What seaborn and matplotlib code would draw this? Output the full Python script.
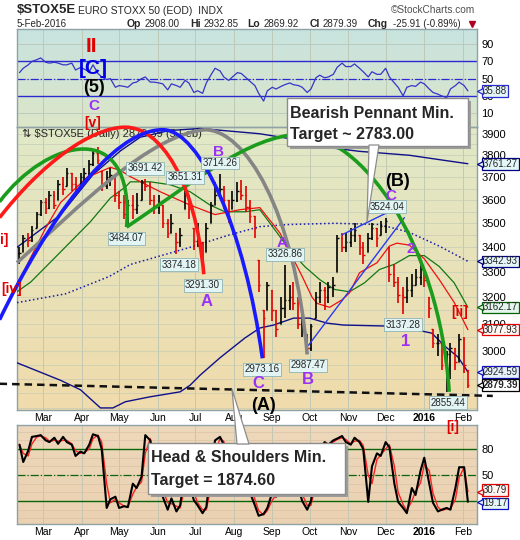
import numpy as np
import pandas as pd
import matplotlib
matplotlib.use("Agg")
import matplotlib.pyplot as plt
import matplotlib.dates as mdates
import seaborn as sns
from matplotlib.path import Path
from matplotlib.patches import PathPatch, Rectangle, Polygon
from matplotlib.colors import LinearSegmentedColormap
from matplotlib.transforms import blended_transform_factory
from matplotlib.ticker import FixedLocator, FixedFormatter, NullLocator

sns.set_theme(style="white")
plt.rcParams["font.family"] = ["Liberation Sans", "DejaVu Sans"]

# ---------------------------------------------------------------- data
bar_dates = pd.date_range("2015-02-10", "2016-02-05", freq="W-TUE").union(
    pd.date_range("2015-02-10", "2016-02-05", freq="W-FRI"))

close = [3375, 3440, 3430, 3470, 3540, 3590,
         3565, 3620, 3580, 3670, 3650, 3720, 3670, 3660, 3700,
         3720, 3760, 3810, 3780, 3660, 3700, 3710, 3620,
         3590, 3540, 3580, 3560, 3580, 3680, 3660, 3600, 3570,
         3590, 3500, 3460, 3500, 3420, 3450, 3630, 3560, 3424,
         3440, 3320, 3480, 3580, 3620, 3650, 3600, 3530, 3600,
         3640, 3620, 3570, 3530, 3480, 3250, 3120, 3250,
         3150, 3080, 3160, 3190, 3200, 3180, 3100, 3110, 3010,
         3090, 3200, 3230, 3200, 3240, 3250, 3440, 3400, 3420,
         3450, 3470, 3400, 3370, 3440, 3480, 3440, 3490,
         3510, 3290, 3260, 3210, 3200, 3230, 3250, 3280, 3310, 3268,
         3160, 3030, 3030, 2950, 2990, 3010, 2960, 3045,
         2950, 2879.39]
high = [3400, 3450, 3460, 3490, 3550, 3600,
        3610, 3640, 3640, 3690, 3700, 3740, 3720, 3700, 3720,
        3740, 3780, 3820, 3836, 3730, 3730, 3740, 3700,
        3640, 3620, 3600, 3620, 3630, 3690, 3691, 3680, 3620,
        3620, 3580, 3520, 3540, 3460, 3480, 3651, 3620, 3480,
        3500, 3420, 3500, 3590, 3680, 3714, 3660, 3600, 3640,
        3680, 3690, 3660, 3600, 3530, 3350, 3150, 3260,
        3230, 3150, 3200, 3327, 3250, 3260, 3200, 3150, 3060,
        3100, 3220, 3260, 3240, 3260, 3280, 3450, 3460, 3460,
        3480, 3500, 3450, 3420, 3460, 3500, 3480, 3510,
        3524, 3400, 3330, 3280, 3240, 3280, 3290, 3310, 3330, 3310,
        3200, 3080, 3060, 3030, 3000, 3030, 3010, 3060,
        3050, 2932.85]
low = [3330, 3380, 3400, 3420, 3480, 3530,
       3540, 3560, 3560, 3600, 3620, 3660, 3640, 3620, 3650,
       3680, 3700, 3750, 3760, 3640, 3650, 3660, 3590,
       3560, 3520, 3484, 3520, 3540, 3600, 3640, 3580, 3540,
       3540, 3480, 3440, 3460, 3374, 3400, 3560, 3520, 3390,
       3400, 3291, 3380, 3500, 3580, 3620, 3560, 3500, 3560,
       3590, 3600, 3550, 3500, 3440, 3220, 2973, 3150,
       3110, 3050, 3100, 3120, 3150, 3150, 3080, 3050, 2987,
       3000, 3120, 3180, 3150, 3180, 3200, 3300, 3380, 3380,
       3400, 3420, 3370, 3330, 3380, 3430, 3400, 3450,
       3460, 3260, 3240, 3180, 3137, 3180, 3200, 3250, 3250, 3240,
       3120, 3010, 2980, 2930, 2855, 2900, 2930, 2960,
       2920, 2869.92]

rsi = [57, 62, 66, 70, 72, 74,
       69, 68, 69, 68, 66, 66, 68, 60, 63,
       61, 58, 66, 56, 52, 49, 50, 40,
       42, 41, 40, 45, 46, 50, 52, 46, 46,
       45, 44, 37, 44, 42, 40, 48, 45, 34,
       36, 33, 45, 55, 62, 59, 52, 48, 52,
       57, 56, 51, 47, 42, 33, 24, 36,
       40, 38, 41, 43, 45, 43, 42, 40, 34,
       38, 51, 54, 51, 52, 55, 63, 68, 64,
       64, 67, 62, 58, 52, 58, 55, 55,
       62, 52, 45, 40, 30, 40, 42, 41, 46, 44,
       38, 34, 32, 30, 28, 38, 42, 46,
       42, 35.88]

stoch_k = [85, 65, 78, 94, 95, 96,
           90, 88, 93, 86, 94, 88, 85, 72, 77,
           75, 85, 97, 95, 80, 12, 22, 25,
           12, 14, 13, 40, 35, 48, 96, 90, 60,
           40, 25, 10, 23, 8, 15, 55, 40, 21,
           15, 6, 13, 60, 90, 94, 85, 55, 60,
           70, 72, 50, 30, 15, 3, 5, 12,
           30, 25, 40, 50, 55, 55, 35, 20, 10,
           20, 60, 80, 88, 85, 90, 92, 95, 88,
           85, 93, 88, 80, 19, 60, 75, 72,
           88, 82, 40, 19, 12, 6, 35, 27, 55, 70,
           40, 18, 8, 10, 12, 10, 35, 59,
           59, 19.17]
stoch_d = [85, 75, 72, 86, 94, 95,
           93, 89, 90, 89, 90, 90, 86, 78, 75,
           76, 80, 92, 96, 88, 40, 18, 22,
           18, 14, 13, 28, 36, 42, 75, 92, 75,
           50, 33, 18, 17, 14, 12, 38, 47, 30,
           18, 10, 10, 38, 76, 92, 89, 70, 58,
           65, 71, 61, 40, 22, 9, 4, 9,
           21, 27, 33, 45, 53, 55, 45, 28, 15,
           15, 40, 70, 84, 86, 88, 91, 93, 91,
           86, 89, 90, 84, 50, 40, 68, 73,
           80, 85, 60, 30, 16, 9, 20, 31, 41, 62,
           55, 29, 13, 9, 11, 11, 22, 47,
           59, 30.79]

ma_red_dates = ["2015-02-08", "2015-02-19", "2015-03-03", "2015-03-15", "2015-04-05",
                "2015-04-24", "2015-05-02", "2015-05-10", "2015-06-03", "2015-06-27",
                "2015-07-17", "2015-08-06", "2015-08-22", "2015-09-07", "2015-09-17",
                "2015-09-25", "2015-10-03", "2015-10-07", "2015-10-17", "2015-10-27",
                "2015-11-02", "2015-11-10", "2015-11-24", "2015-12-04", "2015-12-10",
                "2015-12-20", "2016-01-01", "2016-01-13", "2016-01-25", "2016-02-05"]
ma_red = [3250, 3358, 3480, 3589, 3699, 3745, 3731, 3703, 3636, 3578,
          3537, 3558, 3567, 3460, 3361, 3282, 3200, 3177, 3162, 3191,
          3218, 3297, 3337, 3405, 3417, 3409, 3353, 3270, 3181, 3077.93]

ma_green_dates = ["2015-02-08", "2015-02-19", "2015-03-15", "2015-04-08", "2015-04-24",
                  "2015-05-06", "2015-05-10", "2015-05-26", "2015-06-11", "2015-06-27",
                  "2015-07-13", "2015-07-25", "2015-08-10", "2015-08-22", "2015-09-03",
                  "2015-09-15", "2015-09-27", "2015-10-09", "2015-10-21", "2015-11-02",
                  "2015-11-14", "2015-11-26", "2015-12-08", "2015-12-20", "2016-01-01",
                  "2016-01-13", "2016-01-25", "2016-02-05"]
ma_green = [3222, 3260, 3381, 3507, 3609, 3657, 3680, 3680, 3667, 3636,
            3578, 3549, 3549, 3558, 3473, 3389, 3322, 3270, 3231, 3222,
            3257, 3310, 3331, 3366, 3366, 3322, 3257, 3162.17]

ma200_dates = ["2015-02-08", "2015-03-19", "2015-04-23", "2015-05-10", "2015-06-27",
               "2015-07-29", "2015-08-22", "2015-09-15", "2015-10-21", "2015-11-26",
               "2015-12-20", "2016-01-13", "2016-02-05"]
ma200 = [3180, 3214, 3282, 3330, 3400, 3452, 3486, 3495, 3500, 3495, 3462, 3405, 3342.93]

upper_dates = ["2015-02-08", "2015-03-15", "2015-04-10", "2015-05-02", "2015-05-18",
               "2015-06-10", "2015-07-05", "2015-08-22", "2015-09-12", "2015-10-10",
               "2015-11-10", "2015-12-20", "2016-01-13", "2016-02-05"]
upper = [3400, 3536, 3712, 3820, 3884, 3915, 3925, 3900, 3880, 3840, 3818, 3800, 3780, 3761.27]

lower_dates = ["2015-02-08", "2015-03-15", "2015-03-31", "2015-04-16", "2015-04-26",
               "2015-05-06", "2015-05-26", "2015-06-19", "2015-06-27", "2015-07-05",
               "2015-07-21", "2015-08-10", "2015-08-22", "2015-09-02", "2015-09-18",
               "2015-10-01", "2015-10-15", "2015-10-28", "2015-12-04", "2015-12-22",
               "2016-01-07", "2016-01-18", "2016-01-28", "2016-02-05"]
lower = [2957, 2895, 2862, 2800, 2800, 2821, 2838, 2855, 2878, 2913,
         2975, 3047, 3084, 3095, 3121, 3121, 3102, 3095, 3091, 3080,
         3065, 3015, 2978, 2924.59]

# extreme-value labels
lab_dates = ["2015-05-22", "2015-05-07", "2015-06-23", "2015-07-21", "2015-06-18",
             "2015-07-07", "2015-08-24", "2015-09-11", "2015-09-30", "2015-12-02",
             "2015-12-15", "2016-01-20"]
lab_prices = [3691.42, 3484.07, 3651.31, 3714.26, 3374.18, 3291.30, 2973.16,
              3326.86, 2987.47, 3524.04, 3137.28, 2855.44]
lab_side = [1, -1, 1, 1, -1, -1, -1, 1, -1, 1, -1, -1]

# hand-drawn cycle arcs (cubic Bezier control points: date, price)
arc_green1_d = ["2015-01-25", "2015-03-03", "2015-05-14", "2015-05-07"]
arc_green1_p = [3592, 3872, 3991, 3484]
arc_green2_d = ["2015-05-07", "2015-06-27", "2015-08-14", "2015-09-23",
                "2015-11-10", "2016-01-13", "2016-01-21"]
arc_green2_p = [3484, 3668, 3896, 3896, 3896, 3431, 2855]
arc_red_d = ["2015-01-25", "2015-02-27", "2015-04-08", "2015-05-06",
             "2015-06-03", "2015-07-01", "2015-07-08"]
arc_red_p = [3524, 3757, 3931, 3931, 3931, 3690, 3291]
arc_blue_d = ["2015-01-25", "2015-03-03", "2015-04-24", "2015-06-05",
              "2015-07-05", "2015-08-10", "2015-08-24"]
arc_blue_p = [3115, 3494, 3919, 3919, 3919, 3473, 2973]
arc_gray_d = ["2015-02-08", "2015-03-31", "2015-05-26", "2015-07-09",
              "2015-08-10", "2015-09-19", "2015-09-29"]
arc_gray_p = [3337, 3579, 3896, 3919, 3919, 3558, 2987]

trend1_d = ["2015-09-30", "2015-12-16"]
trend1_p = [3020, 3524]
trend2_d = ["2015-10-27", "2015-12-10"]
trend2_p = [3452, 3566]
neck_d = ["2015-01-25", "2016-02-25"]
neck_p = [2883, 2841]

price_ticks = [3000, 3100, 3200, 3300, 3400, 3500, 3600, 3700, 3800, 3900]
rsi_ticks = [10, 30, 50, 70, 90]
sto_ticks = [50, 80]
month_labels = ["Mar", "Apr", "May", "Jun", "Jul", "Aug", "Sep", "Oct", "Nov",
                "Dec", "2016", "Feb"]

main_tags = [3761.27, 3342.93, 3162.17, 3077.93, 2924.59, 2879.39]
main_tag_ec = ["#000080", "#000080", "#006400", "#e00000", "#1010c0", "#000000"]
main_tag_fc = ["#e4f6f8", "#e4f6f8", "#e4f6ec", "#fff6f2", "#e4f0fa", "#ffffff"]

# ---------------------------------------------------------------- figure
W, H = 520, 540
fig = plt.figure(figsize=(W / 100, H / 100), dpi=100)


def rect(l, t, r, b):
    return [l / W, 1 - b / H, (r - l) / W, (b - t) / H]


def panel(box, top_col, bot_col):
    bg = fig.add_axes(box, zorder=0)
    cmap = LinearSegmentedColormap.from_list("bg", [bot_col, top_col])
    bg.imshow(np.linspace(0, 1, 256).reshape(-1, 1), aspect="auto", cmap=cmap,
              origin="lower", extent=[0, 1, 0, 1])
    bg.set_axis_off()
    a = fig.add_axes(box, zorder=1)
    a.set_facecolor("none")
    for s in a.spines.values():
        s.set_color("#8fa3a6")
        s.set_linewidth(1.0)
    return a


ax_top = panel(rect(17, 29, 477, 127), "#c8e3df", "#dce6c8")
ax = panel(rect(17, 127, 477, 410), "#e0e9c7", "#f0dbab")
ax_bot = panel(rect(17, 425, 477, 524), "#eed8bb", "#ead1b1")

d2n = lambda lst: mdates.date2num(pd.to_datetime(lst))
x0 = mdates.date2num(pd.Timestamp("2015-02-08"))
x1 = mdates.date2num(pd.Timestamp("2016-02-12 08:00"))
months = mdates.date2num(pd.date_range("2015-03-01", "2016-02-01", freq="MS"))

ax.set_yscale("log")
for a in (ax_top, ax, ax_bot):
    a.set_xlim(x0, x1)
    for m in months:
        a.axvline(m, color="#bcc4b2", lw=0.6, zorder=0.5)
    a.set_xticks(months)
    a.tick_params(axis="both", length=0, colors="black")
    a.yaxis.tick_right()
    a.grid(False)
ax_top.set_xticklabels([])
for a in (ax, ax_bot):
    a.set_xticklabels(month_labels, fontsize=7.5)
    a.tick_params(axis="x", pad=2)
    a.get_xticklabels()[10].set_fontweight("bold")

# ---- top panel (RSI)
ax_top.set_ylim(-6, 107.5)
ax_top.yaxis.set_major_locator(FixedLocator(rsi_ticks))
ax_top.set_yticklabels([str(t) for t in rsi_ticks], fontsize=8)
ax_top.tick_params(axis="y", pad=3)
for g in rsi_ticks:
    ax_top.axhline(g, color="#b9c6bc", lw=0.6, zorder=0.5)
ax_top.axhline(70, color="#2a2ad0", lw=1.0, zorder=2)
ax_top.axhline(30, color="#2a2ad0", lw=1.0, zorder=2)
ax_top.axhline(50, color="#2a2ad0", lw=0.9, ls="-.", zorder=2)
xb = d2n(bar_dates)
sns.lineplot(x=xb, y=rsi, ax=ax_top, color="#3535c8", linewidth=0.9,
             estimator=None, legend=False, zorder=3)

# ---- main panel
ax.set_ylim(2793, 3932)
ax.yaxis.set_major_locator(FixedLocator(price_ticks))
ax.yaxis.set_major_formatter(FixedFormatter([str(t) for t in price_ticks]))
ax.yaxis.set_minor_locator(NullLocator())
ax.tick_params(axis="y", labelsize=8, pad=3)
for g in range(2800, 3951, 50):
    ax.axhline(g, color="#c6ccb6", lw=0.5, zorder=0.5)

sns.lineplot(x=d2n(ma200_dates), y=ma200, ax=ax, color="#1a1aa8", linewidth=1.1,
             linestyle=":", estimator=None, legend=False, zorder=3)
sns.lineplot(x=d2n(upper_dates), y=upper, ax=ax, color="#10108a", linewidth=1.0,
             estimator=None, legend=False, zorder=3)
sns.lineplot(x=d2n(lower_dates), y=lower, ax=ax, color="#10108a", linewidth=1.0,
             estimator=None, legend=False, zorder=3)
sns.lineplot(x=d2n(ma_green_dates), y=ma_green, ax=ax, color="#127812", linewidth=0.9,
             estimator=None, legend=False, zorder=3)
sns.lineplot(x=d2n(ma_red_dates), y=ma_red, ax=ax, color="#f01010", linewidth=0.9,
             estimator=None, legend=False, zorder=3)

c = np.array(close, float)
hi = np.array(high, float)
lo = np.array(low, float)
o = np.clip(np.r_[c[0], c[:-1]], lo, hi)
cols = np.where(c >= np.r_[c[0], c[:-1]], "#000000", "#e00000")
ax.vlines(xb, lo, hi, colors=cols, lw=1.2, zorder=4)
ax.hlines(o, xb - 1.2, xb, colors=cols, lw=1.0, zorder=4)
ax.hlines(c, xb, xb + 1.2, colors=cols, lw=1.0, zorder=4)

ax.text(5 / 460, 1 - 7 / 283, "⇅ \\$STOX5E (Daily) 2879.39 (5 Feb)", transform=ax.transAxes,
        fontsize=8, va="center", ha="left", zorder=2)


def arc(dates, prices, color):
    verts = list(zip(d2n(dates), prices))
    codes = [Path.MOVETO] + [Path.CURVE4] * (len(verts) - 1)
    ax.add_patch(PathPatch(Path(verts, codes), fc="none", ec=color, lw=2.6,
                           clip_on=False, zorder=6))


arc(arc_gray_d, arc_gray_p, "#858585")
arc(arc_green1_d, arc_green1_p, "#1c9c1c")
arc(arc_green2_d, arc_green2_p, "#1c9c1c")
arc(arc_red_d, arc_red_p, "#ff1a1a")
arc(arc_blue_d, arc_blue_p, "#1a1aff")

ax.plot(d2n(trend1_d), trend1_p, color="#2a3af0", lw=1.0, zorder=5)
ax.plot(d2n(trend2_d), trend2_p, color="#2a3af0", lw=1.0, zorder=5)
ax.plot(d2n(neck_d), neck_p, color="#111111", lw=1.8, ls=(0, (3, 2)), zorder=6, clip_on=False)

for d, p, s in zip(d2n(lab_dates), lab_prices, lab_side):
    ax.annotate(f"{p:.2f}", xy=(d, p), xytext=(0, 8 * s), textcoords="offset points",
                ha="center", va="center", fontsize=7, zorder=8, annotation_clip=False,
                bbox=dict(boxstyle="square,pad=0.15", fc="#e2f5f4", ec="#8fb3b3", lw=0.6))


def tag(a, val, ec, fc, bold=False, nudge=0.0):
    tr = blended_transform_factory(a.transAxes, a.transData)
    a.annotate(f"{val:.2f}", xy=(1.0 + 6 / 460, val), xycoords=tr, xytext=(0, nudge),
               textcoords="offset points", ha="left", va="center",
               fontsize=7, fontweight="bold" if bold else "normal", zorder=9,
               annotation_clip=False,
               bbox=dict(boxstyle="square,pad=0.08", fc=fc, ec=ec, lw=0.9))
    a.plot([1.0 + 3 / 460], [val], marker="<", ms=4.5, mfc=fc, mec=ec, mew=0.9,
           transform=tr, clip_on=False, zorder=9)


for v, e, f in zip(main_tags, main_tag_ec, main_tag_fc):
    tag(ax, v, e, f, bold=(v == main_tags[-1]))
tag(ax_top, rsi[-1], "#2a2ad0", "#e4f6f8")

# ---- bottom panel (stochastic)
ax_bot.set_ylim(-6.5, 107.7)
ax_bot.yaxis.set_major_locator(FixedLocator(sto_ticks))
ax_bot.set_yticklabels([str(t) for t in sto_ticks], fontsize=8)
ax_bot.tick_params(axis="y", pad=3)
for g in range(0, 101, 10):
    ax_bot.axhline(g, color="#d9c3a6", lw=0.5, zorder=0.5)
ax_bot.axhline(80, color="#0a640a", lw=1.0, zorder=2)
ax_bot.axhline(20, color="#0a640a", lw=1.0, zorder=2)
ax_bot.axhline(50, color="#0a640a", lw=0.9, ls="-.", zorder=2)
sns.lineplot(x=xb, y=stoch_d, ax=ax_bot, color="#ff2020", linewidth=1.0,
             estimator=None, legend=False, zorder=3)
sns.lineplot(x=xb, y=stoch_k, ax=ax_bot, color="#000000", linewidth=1.5,
             estimator=None, legend=False, zorder=4)
tag(ax_bot, stoch_d[-1], "#e00000", "#fff6f2", nudge=1.2)
tag(ax_bot, stoch_k[-1], "#1010c0", "#e4f6f8", nudge=-1.2)

# ---------------------------------------------------------------- overlay
ov = fig.add_axes([0, 0, 1, 1], zorder=10)
ov.set_xlim(0, W)
ov.set_ylim(H, 0)
ov.set_axis_off()

ov.text(17, 10, "\\$STOX5E", fontsize=9.5, fontweight="bold", va="center", ha="left")
ov.text(78, 10.5, "EURO STOXX 50 (EOD)  INDX", fontsize=7.5, va="center", ha="left")
ov.text(475, 10, "©StockCharts.com", fontsize=7.3, color="#505050", va="center", ha="right")
ov.text(17, 24, "5-Feb-2016", fontsize=7, va="center", ha="left")
quote = [(127, "Op", True), (145, "2908.00", False), (190, "Hi", True), (204, "2932.85", False),
         (247, "Lo", True), (264, "2869.92", False), (310, "Cl", True), (323, "2879.39", False),
         (368, "Chg", True), (393, "-25.91 (-0.89%)", False)]
for qx, qs, qb in quote:
    ov.text(qx, 24, qs, fontsize=7.5 if qb else 7, fontweight="bold" if qb else "normal",
            va="center", ha="left")
ov.plot([472], [24], marker="v", color="#b00020", ms=4)

purple = "#9932f5"
red = "#e00000"
waves = [(91, 46, "II", red, 15), (93, 68, "[C]", "#0000e6", 15), (94, 87, "(5)", "black", 13),
         (94, 106, "C", purple, 11), (93, 123, "[v]", red, 10), (4, 240, "i]", red, 10),
         (12, 289, "[iv]", red, 10), (219, 152, "B", purple, 11), (207, 301, "A", purple, 12),
         (258, 384, "C", purple, 12), (264, 405, "(A)", "black", 13), (282, 243, "A", purple, 11),
         (308, 380, "B", purple, 12), (397, 181, "(B)", "black", 13), (391, 196, "C", purple, 11),
         (411, 249, "2", purple, 11), (406, 342, "1", purple, 12), (460, 312, "[ii]", red, 10),
         (453, 427, "[i]", red, 10)]
for wx, wy, ws, wc, wf in waves:
    ov.text(wx, wy, ws, color=wc, fontsize=wf, fontweight="bold", ha="center", va="center")

# callout boxes
ov.add_patch(Rectangle((290, 101), 181, 48, fc="#9c9c9c", ec="none"))
ov.add_patch(Rectangle((287, 98), 181, 48, fc="white", ec="#8c8c8c", lw=1))
ov.add_patch(Polygon([(369, 145), (379, 145), (367, 222)], closed=True, fc="white",
                     ec="#8c8c8c", lw=0.9))
ov.text(290, 113, "Bearish Pennant Min.", fontsize=11.5, fontweight="bold", va="center", ha="left")
ov.text(290, 134, "Target ~ 2783.00", fontsize=11.5, fontweight="bold", va="center", ha="left")

ov.add_patch(Rectangle((151, 446), 197, 51, fc="#9c9c9c", ec="none"))
ov.add_patch(Rectangle((148, 443), 197, 51, fc="white", ec="#8c8c8c", lw=1))
ov.add_patch(Polygon([(237, 444), (249, 444), (232, 389)], closed=True, fc="white",
                     ec="#8c8c8c", lw=0.9))
ov.text(151, 458, "Head & Shoulders Min.", fontsize=11.5, fontweight="bold", va="center", ha="left")
ov.text(151, 481, "Target = 1874.60", fontsize=11.5, fontweight="bold", va="center", ha="left")

fig.savefig("out.png", dpi=100)
